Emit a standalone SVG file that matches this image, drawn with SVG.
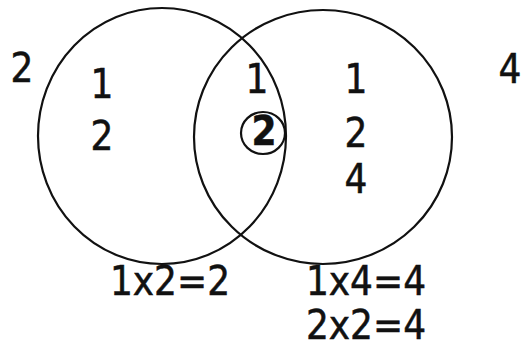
<svg xmlns="http://www.w3.org/2000/svg" width="523" height="349" viewBox="0 0 523 349">
<style>
.c{fill:none;stroke:#111;stroke-width:2.2}
.t{font-family:"DejaVu Sans Condensed","DejaVu Sans",sans-serif;font-size:40px;fill:#111;stroke:#111;stroke-width:0.5;text-anchor:middle}
.b{font-weight:bold}
</style>
<rect width="523" height="349" fill="#fff"/>
<g id="setA"><ellipse class="c" cx="162" cy="136" rx="124" ry="128"/></g>
<g id="setB"><ellipse class="c" cx="323" cy="137" rx="129" ry="127"/></g>
<g id="labels">
<text class="t" x="22" y="82">2</text>
<text class="t" x="510" y="83">4</text>
<text class="t" x="102" y="98">1</text>
<text class="t" x="102" y="150">2</text>
<text class="t" x="257" y="93">1</text>
<g id="common"><ellipse class="c" cx="263" cy="133" rx="22" ry="21"/><text class="t b" x="264" y="145">2</text></g>
<text class="t" x="356" y="93">1</text>
<text class="t" x="356" y="147">2</text>
<text class="t" x="356" y="193">4</text>
<text class="t" x="170" y="295">1x2=2</text>
<text class="t" x="366" y="295">1x4=4</text>
<text class="t" x="366" y="339">2x2=4</text>
</g>
</svg>
